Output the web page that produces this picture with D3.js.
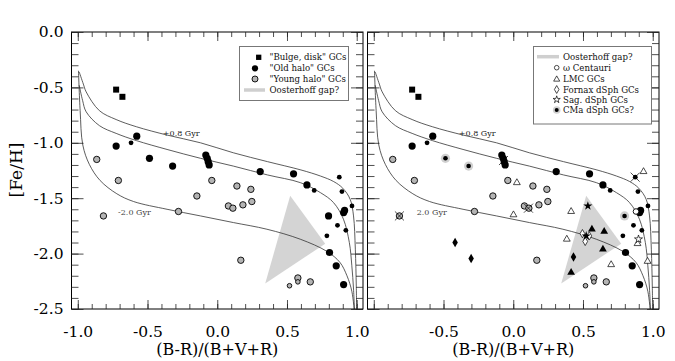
<!DOCTYPE html>
<html>
<head>
<meta charset="utf-8">
<script src="https://cdn.jsdelivr.net/npm/d3@7"></script>
<style>
  body { margin: 0; background: #fff; }
  text { font-family: "DejaVu Serif", serif; }
</style>
</head>
<body>
<svg id="chart" width="675" height="361"></svg>
<script>
// ---- data: [colour index (B-R)/(B+V+R), [Fe/H]] ----
const xTickLabels = [-1.0, -0.5, 0.0, 0.5, 1.0]
const yTickLabels = [0.0, -0.5, -1.0, -1.5, -2.0, -2.5]

const bulgeDisk = [[-0.725, -0.52], [-0.68, -0.585]]
const oldHaloBig = [
  [-0.577, -0.94], [-0.725, -1.03], [0.308, -1.26], [0.547, -1.28], [0.643, -1.38],
  [0.906, -1.63], [0.913, -1.61], [0.805, -1.99], [0.853, -2.11], [0.906, -2.28],
  [-0.082, -1.11], [-0.072, -1.14], [-0.065, -1.17], [-0.058, -1.20]
]
const oldHaloSmall = [
  [-0.618, -1.00], [0.875, -1.31], [0.695, -1.43], [0.894, -1.44], [0.966, -1.57],
  [0.862, -1.745], [0.922, -1.79], [0.786, -1.84]
]
const youngHalo = [
  [-0.864, -1.15], [-0.709, -1.34], [-0.816, -1.66], [-0.278, -1.62], [-0.146, -1.48],
  [-0.039, -1.34], [0.141, -1.39], [0.241, -1.42], [0.08, -1.57], [0.112, -1.59],
  [0.184, -1.56], [0.248, -1.53], [0.169, -2.06], [0.578, -2.22], [0.667, -2.255]
]
const youngHaloSmall = [[0.578, -2.255], [0.518, -2.29]]
// old halo clusters flagged as possible CMa members (right panel)
const cmaGCs = [[-0.486, -1.14], [-0.32, -1.21], [0.798, -1.66]]

const omegaCen = [[0.88, -1.62]]
const lmcOpen = [
  [0.026, -1.36], [0.0015, -1.65], [0.934, -1.26], [0.891, -1.91], [0.963, -2.07],
  [0.702, -2.10], [0.415, -1.62], [0.384, -1.87]
]
const lmcFilled = [[0.564, -1.78], [0.652, -1.80], [0.643, -1.96], [0.415, -2.17]]
const fornaxOpen = [[0.496, -1.82], [0.516, -1.89], [0.545, -1.84]]
const fornaxFilled = [[-0.417, -1.90], [-0.302, -2.045], [0.432, -2.03]]
const sagOpen = [[0.898, -1.87]]
const sagFilled = [[0.535, -1.57], [0.523, -1.84]]
const crossed = [[-0.816, -1.66], [0.109, -1.59], [0.874, -1.31], [-0.07, -1.16]]

const oosterhoffGap = [[0.523, -1.477], [0.774, -1.91], [0.344, -2.27]]

// model loci (age offsets)
const curvePlus08 = [
  [-0.99, -0.36], [-0.96, -0.47], [-0.94, -0.54], [-0.845, -0.71], [-0.725, -0.79],
  [-0.58, -0.855], [-0.36, -0.93], [-0.12, -1.00], [0.115, -1.09], [0.36, -1.17],
  [0.6, -1.245], [0.74, -1.30], [0.835, -1.35], [0.9, -1.41], [0.953, -1.51],
  [0.977, -1.66], [0.99, -1.96], [0.997, -2.3], [1.0, -2.55]
]
const curveZero = [
  [-0.99, -0.48], [-0.965, -0.62], [-0.94, -0.72], [-0.845, -0.845], [-0.725, -0.915],
  [-0.58, -0.98], [-0.36, -1.06], [-0.12, -1.14], [0.115, -1.21], [0.36, -1.29],
  [0.597, -1.36], [0.74, -1.45], [0.834, -1.54], [0.905, -1.69], [0.947, -1.90],
  [0.965, -2.11], [0.977, -2.32], [0.985, -2.55]
]
const curveMinus20 = [
  [-0.995, -0.35], [-0.983, -0.71], [-0.964, -1.02], [-0.917, -1.195], [-0.84, -1.34],
  [-0.72, -1.46], [-0.6, -1.53], [-0.36, -1.60], [-0.12, -1.66], [0.116, -1.72],
  [0.356, -1.78], [0.595, -1.87], [0.786, -1.98], [0.88, -2.08], [0.93, -2.20],
  [0.965, -2.34], [0.985, -2.55]
]

// ---- drawing ----
const svg = d3.select("#chart")
const width = 291.5, height = 277, marginTop = 32

let x = d3.scaleLinear().domain([-1.045, 1.045]).range([0, width])
let y = d3.scaleLinear().domain([-2.5, 0]).range([height, 0])
const fmt = d => d.toFixed(1)

let minorX = d3.range(-10, 11).map(i => i / 10)
let majorX = xTickLabels
let minorY = d3.range(-25, 1).map(i => i / 10)
let majorY = yTickLabels

svg.append("defs").append("clipPath").attr("id", "clip")
    .append("rect").attr("width", width).attr("height", height)

let line = d3.line().x(d => x(d[0])).y(d => y(d[1])).curve(d3.curveCatmullRom.alpha(0.5))

function addTicks(g, axisFn, scale, vals, len, transform) {
    g.append("g")
        .attr("transform", transform)
        .call(axisFn(scale).tickValues(vals).tickSize(-len).tickSizeOuter(0).tickFormat(""))
        .call(a => a.select(".domain").remove())
        .selectAll("line").attr("stroke", "#222").attr("stroke-width", 0.8)
}

function dots(g, pts, r, fill, stroke) {
    g.append("g").selectAll("circle")
        .data(pts).enter()
        .append("circle")
        .attr("cx", d => x(d[0]))
        .attr("cy", d => y(d[1]))
        .attr("r", r)
        .attr("fill", fill)
        .attr("stroke", stroke || "none")
        .attr("stroke-width", 0.9)
}

function marks(g, pts, type, size, fill, stroke) {
    g.append("g").selectAll("path")
        .data(pts).enter()
        .append("path")
        .attr("transform", d => "translate(" + x(d[0]) + "," + y(d[1]) + ")")
        .attr("d", d3.symbol().type(type).size(size))
        .attr("fill", fill)
        .attr("stroke", stroke || "none")
        .attr("stroke-width", 0.7)
}

function panel(left, isLeft) {
    let g = svg.append("g").attr("transform", "translate(" + left + "," + marginTop + ")")

    // Oosterhoff gap wedge
    g.append("path")
        .attr("d", "M" + oosterhoffGap.map(d => x(d[0]) + "," + y(d[1])).join("L") + "Z")
        .attr("fill", "#d4d4d4")

    // model loci
    let cg = g.append("g").attr("clip-path", "url(#clip)")
    ;[curvePlus08, curveZero, curveMinus20].forEach(c => {
        cg.append("path").attr("d", line(c))
            .attr("fill", "none").attr("stroke", "#333").attr("stroke-width", 0.8)
    })
    g.append("text").attr("x", x(-0.39)).attr("y", y(-0.937))
        .attr("font-size", 8).attr("fill", "#222").text("+0.8 Gyr")
    g.append("text").attr("x", x(isLeft ? -0.711 : -0.692)).attr("y", y(-1.649))
        .attr("font-size", 8).attr("fill", "#444").text(isLeft ? "-2.0 Gyr" : "2.0 Gyr")

    // Galactic GCs
    marks(g, bulgeDisk, d3.symbolSquare, 36, "#000")
    dots(g, youngHalo, 3.2, "#b4b4b4", "#000")
    dots(g, youngHaloSmall, 2.3, "#b4b4b4", "#000")
    dots(g, oldHaloBig, 3.6, "#000")
    dots(g, oldHaloSmall, 2.4, "#000")

    if (isLeft) {
        dots(g, cmaGCs, 3.6, "#000")
    } else {
        dots(g, cmaGCs, 4.6, "#d0d0d0")
        dots(g, cmaGCs, 2.3, "#000")
        marks(g, crossed, d3.symbolX, 55, "none", "#000")
        dots(g, omegaCen, 2.8, "#fff", "#000")
        marks(g, lmcOpen, d3.symbolTriangle, 20, "#fff", "#000")
        marks(g, lmcFilled, d3.symbolTriangle, 26, "#000")
        marks(g, fornaxOpen, d3.symbolDiamond, 20, "#fff", "#000")
        marks(g, fornaxFilled, d3.symbolDiamond, 26, "#000")
        marks(g, sagOpen, d3.symbolStar, 20, "#fff", "#000")
        marks(g, sagFilled, d3.symbolStar, 26, "#000")
    }

    // frame and inward ticks on all four sides
    g.append("rect").attr("width", width).attr("height", height)
        .attr("fill", "none").attr("stroke", "#000").attr("stroke-width", 1)
    addTicks(g, d3.axisBottom, x, minorX, 5, "translate(0," + height + ")")
    addTicks(g, d3.axisBottom, x, majorX, 9, "translate(0," + height + ")")
    addTicks(g, d3.axisTop, x, minorX, 5, "translate(0,0)")
    addTicks(g, d3.axisTop, x, majorX, 9, "translate(0,0)")
    addTicks(g, d3.axisLeft, y, minorY, 7, "translate(0,0)")
    addTicks(g, d3.axisLeft, y, majorY, 12, "translate(0,0)")
    addTicks(g, d3.axisRight, y, minorY, 7, "translate(" + width + ",0)")
    addTicks(g, d3.axisRight, y, majorY, 12, "translate(" + width + ",0)")

    // tick labels
    let xl = g.append("g").attr("transform", "translate(0," + height + ")")
        .call(d3.axisBottom(x).tickValues(isLeft ? xTickLabels : xTickLabels.slice(1))
            .tickSize(0).tickPadding(17).tickFormat(fmt))
    xl.select(".domain").remove()
    xl.selectAll("text").attr("font-size", 15.5).attr("font-family", "DejaVu Serif").attr("fill", "#000")

    if (isLeft) {
        let yl = g.append("g")
            .call(d3.axisLeft(y).tickValues(yTickLabels).tickSize(0).tickPadding(8).tickFormat(fmt))
        yl.select(".domain").remove()
        yl.selectAll("text").attr("font-size", 15.5).attr("font-family", "DejaVu Serif").attr("fill", "#000")
    }

    g.append("text")
        .attr("x", width / 2).attr("y", 323)
        .attr("text-anchor", "middle").attr("font-size", 16)
        .text("(B-R)/(B+V+R)")
    return g
}

panel(71.5, true)
panel(367.5, false)

svg.append("text")
    .attr("transform", "translate(22,170) rotate(-90)")
    .attr("text-anchor", "middle").attr("font-size", 17)
    .text("[Fe/H]")

// ---- legends ----
function legendBox(x0, y0, w, h) {
    svg.append("rect").attr("x", x0).attr("y", y0).attr("width", w).attr("height", h)
        .attr("fill", "#fff").attr("stroke", "#777").attr("stroke-width", 1)
}
function legendText(tx, ty, s) {
    svg.append("text").attr("x", tx).attr("y", ty + 3).attr("font-size", 8.6).attr("fill", "#111").text(s)
}
function legendSym(cx, cy, type, size, fill, stroke) {
    svg.append("path").attr("transform", "translate(" + cx + "," + cy + ")")
        .attr("d", d3.symbol().type(type).size(size)())
        .attr("fill", fill).attr("stroke", stroke || "none").attr("stroke-width", 0.7)
}

legendBox(239.5, 46.5, 109, 54)
legendSym(258.7, 57.3, d3.symbolSquare, 28, "#000")
legendText(269.5, 57.3, "\"Bulge, disk\" GCs")
svg.append("circle").attr("cx", 255).attr("cy", 68.3).attr("r", 3.1).attr("fill", "#000")
legendText(269.5, 68.3, "\"Old halo\" GCs")
svg.append("circle").attr("cx", 255).attr("cy", 79).attr("r", 3).attr("fill", "#b4b4b4").attr("stroke", "#000").attr("stroke-width", 0.9)
legendText(269.5, 79, "\"Young halo\" GCs")
svg.append("line").attr("x1", 244).attr("x2", 265).attr("y1", 90).attr("y2", 90).attr("stroke", "#cfcfcf").attr("stroke-width", 3.5)
legendText(269.5, 90, "Oosterhoff gap?")

legendBox(533.5, 46.5, 118, 77.5)
svg.append("line").attr("x1", 537).attr("x2", 559).attr("y1", 56.7).attr("y2", 56.7).attr("stroke", "#cfcfcf").attr("stroke-width", 3.5)
legendText(563, 56.7, "Oosterhoff gap?")
svg.append("circle").attr("cx", 556.7).attr("cy", 67.7).attr("r", 2.3).attr("fill", "#fff").attr("stroke", "#000").attr("stroke-width", 0.7)
legendText(563, 67.7, "\u03c9 Centauri")
legendSym(556.7, 79.4, d3.symbolTriangle, 16, "#fff", "#000")
legendText(563, 78.7, "LMC GCs")
legendSym(556.7, 89.5, d3.symbolDiamond, 18, "#fff", "#000")
legendText(563, 89.5, "Fornax dSph GCs")
legendSym(556.7, 99.6, d3.symbolStar, 16, "#fff", "#000")
legendText(563, 99.6, "Sag. dSph GCs")
svg.append("circle").attr("cx", 556.7).attr("cy", 110).attr("r", 3.8).attr("fill", "#d0d0d0")
svg.append("circle").attr("cx", 556.7).attr("cy", 110).attr("r", 2).attr("fill", "#000")
legendText(563, 110, "CMa dSph GCs?")
</script>
</body>
</html>
